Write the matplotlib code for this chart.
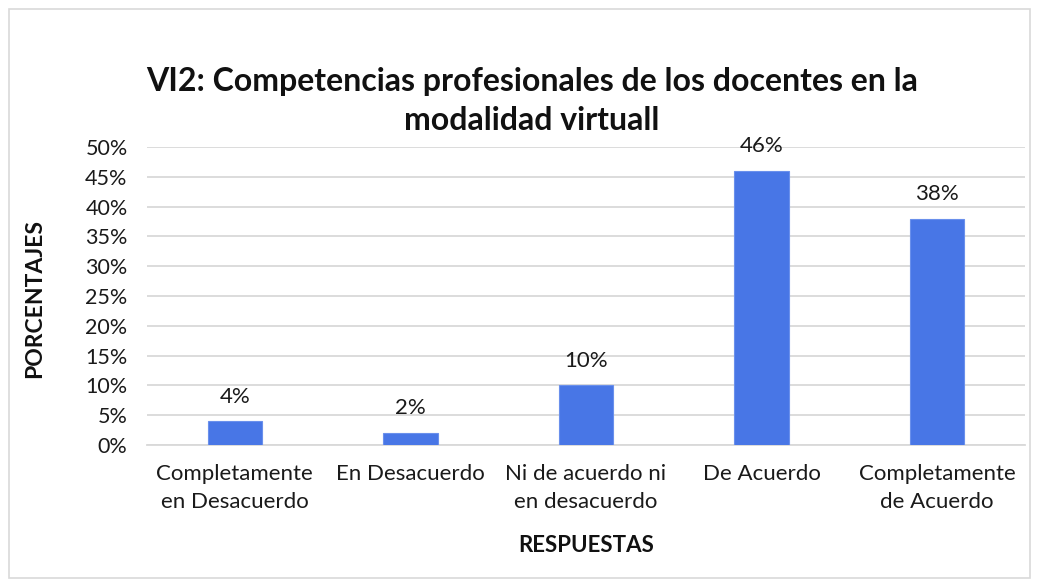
import matplotlib
matplotlib.use("Agg")
import matplotlib.pyplot as plt
from matplotlib.patches import Rectangle
from matplotlib.ticker import FuncFormatter, MultipleLocator

categories = ["Completamente\nen Desacuerdo", "En Desacuerdo", "Ni de acuerdo ni\nen desacuerdo",
              "De Acuerdo", "Completamente\nde Acuerdo"]
values = [4, 2, 10, 46, 38]
value_labels = ["4%", "2%", "10%", "46%", "38%"]
title = "VI2: Competencias profesionales de los docentes en la\nmodalidad virtuall"
xlabel = "RESPUESTAS"
ylabel = "PORCENTAJES"

plt.rcParams['font.family'] = ['Lato', 'DejaVu Sans']

fig = plt.figure(figsize=(10.39, 5.86), dpi=100)
fig.patch.set_facecolor("white")
fig.patches.append(Rectangle((9/1039, 8/586), 1021/1039, 569/586, transform=fig.transFigure,
                             fill=False, edgecolor="#D9D9D9", linewidth=1.2))

ax = fig.add_axes([147/1039, 1 - 445/586, 878/1039, 298/586])
x = list(range(len(categories)))
bars = ax.bar(x, values, width=0.31, color="#4876E6", edgecolor="#6A90EC", linewidth=0.8, zorder=3)
ax.set_xlim(-0.5, len(categories) - 0.5)
ax.set_ylim(0, 50)
ax.yaxis.set_major_locator(MultipleLocator(5))
ax.yaxis.set_major_formatter(FuncFormatter(lambda v, p: f"{int(round(v))}%"))
ax.grid(axis="y", color="#D9D9D9", linewidth=1.3, zorder=0)
ax.set_axisbelow(True)
for s in ["top", "right", "left"]:
    ax.spines[s].set_visible(False)
ax.spines["bottom"].set_color("#D9D9D9")
ax.spines["bottom"].set_linewidth(1.3)
ax.tick_params(axis="both", length=0, colors="#1a1a1a")
ax.tick_params(axis="y", pad=14, labelsize=15.5)
ax.tick_params(axis="x", pad=14, labelsize=16)
ax.set_xticks(x)
ax.set_xticklabels(categories, linespacing=1.5)

for xi, v, lab in zip(x, values, value_labels):
    ax.annotate(lab, (xi, v), xytext=(0, 10.5), textcoords="offset points",
                ha="center", va="bottom", fontsize=16, color="#1a1a1a")

fig.text(532/1039, 1 - 101/586, title, ha="center", va="center", fontsize=23,
         fontweight="bold", linespacing=1.45, color="#111111")
fig.text(586/1039, 1 - 545/586, xlabel, ha="center", va="center", fontsize=16,
         fontweight="bold", color="#111111")
fig.text(35/1039, 1 - 298/586, ylabel, ha="center", va="center", fontsize=16.5,
         fontweight="bold", rotation=90, color="#111111")

fig.savefig("out.png", dpi=100, facecolor="white")
